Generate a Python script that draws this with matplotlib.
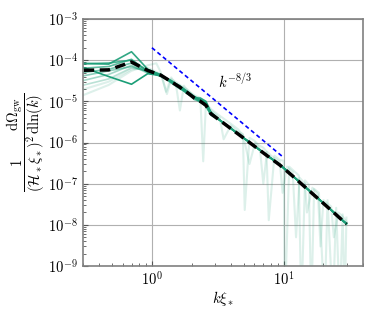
import matplotlib
matplotlib.use("Agg")
import matplotlib.pyplot as plt
from matplotlib.ticker import NullFormatter

plt.rcParams['font.family'] = 'serif'
plt.rcParams['font.serif'] = ['cmr10', 'DejaVu Serif']
plt.rcParams['mathtext.fontset'] = 'cm'
plt.rcParams['axes.formatter.use_mathtext'] = True
plt.rcParams['font.size'] = 10.5

green = '#1b9e77'

# coarse k grid shared by the solid green runs and the mean
k = [0.23, 0.47, 0.70, 0.93, 1.17, 1.40, 1.63, 1.87, 2.10, 2.33, 2.57, 2.80,
     3.27, 3.97, 4.90, 6.07, 7.47, 9.33, 11.7, 14.5, 18.2, 22.9, 28.0, 29.9]

mean = [5.6e-5, 5.8e-5, 9.0e-5, 5.6e-5, 4.3e-5, 3.0e-5, 2.2e-5, 1.6e-5, 1.2e-5, 1.0e-5, 8.0e-6, 5.0e-6,
        3.46e-6, 2.18e-6, 1.32e-6, 7.9e-7, 4.8e-7, 2.85e-7, 1.53e-7, 8.3e-8, 4.35e-8, 2.27e-8, 1.27e-8, 1.06e-8]

# tail beyond k~3, identical for all runs (they sit on the mean there)
tail = [3.5e-6, 2.2e-6, 1.33e-6, 8.0e-7, 4.85e-7, 2.9e-7, 1.55e-7, 8.4e-8, 4.4e-8, 2.3e-8, 1.28e-8, 1.07e-8]

runs = [
    [9.0e-5, 4.0e-5, 2.6e-5, 4.7e-5, 4.2e-5, 3.2e-5, 2.3e-5, 1.7e-5, 1.3e-5, 1.1e-5, 9.5e-6, 5.5e-6],
    [8.5e-5, 8.0e-5, 1.6e-4, 6.0e-5, 4.4e-5, 3.1e-5, 2.2e-5, 1.6e-5, 1.2e-5, 1.2e-5, 1.0e-5, 5.2e-6],
    [8.0e-5, 8.5e-5, 1.0e-4, 5.5e-5, 4.5e-5, 2.9e-5, 2.1e-5, 1.5e-5, 1.3e-5, 1.0e-5, 7.5e-6, 4.8e-6],
    [6.0e-5, 7.0e-5, 1.05e-4, 5.2e-5, 4.1e-5, 3.0e-5, 2.4e-5, 1.7e-5, 1.2e-5, 9.5e-6, 9.0e-6, 5.0e-6],
    [4.5e-5, 6.0e-5, 8.5e-5, 5.0e-5, 4.3e-5, 2.8e-5, 2.0e-5, 1.6e-5, 1.1e-5, 1.0e-5, 8.0e-6, 4.6e-6],
    [3.5e-5, 5.5e-5, 7.0e-5, 5.3e-5, 4.0e-5, 3.1e-5, 2.3e-5, 1.5e-5, 1.2e-5, 1.05e-5, 8.5e-6, 5.1e-6],
    [2.6e-5, 4.5e-5, 7.5e-5, 4.8e-5, 4.4e-5, 2.9e-5, 2.1e-5, 1.6e-5, 1.25e-5, 9.8e-6, 8.2e-6, 4.9e-6],
    [2.0e-5, 3.5e-5, 6.5e-5, 5.5e-5, 4.0e-5, 3.0e-5, 2.2e-5, 1.55e-5, 1.15e-5, 1.0e-5, 8.8e-6, 5.0e-6],
]
run_alpha = [1.0, 0.9, 0.8, 0.7, 0.6, 0.5, 0.4, 0.3]

# faint, noisy runs
f1_k = [0.23, 0.47, 0.70, 0.93, 1.08, 1.17, 1.28, 1.40, 1.52, 1.63, 1.75, 1.87, 2.10, 2.33, 2.45, 2.57,
        2.80, 3.0, 3.5, 4.0, 4.5, 4.9, 5.06, 5.5, 6.0, 6.5, 7.0, 7.4, 7.7, 8.5, 9.3, 10.0, 10.2, 11.0,
        12.0, 13.0, 13.6, 14.5, 15.5, 16.2, 17.0, 18.5, 20.4, 21.5, 23.6, 25.0, 26.6, 28.0, 29.0, 29.9]
f1 = [1.0e-5, 2.5e-5, 5.5e-5, 7.5e-5, 8.4e-5, 5.0e-5, 1.7e-5, 3.8e-5, 2.6e-5, 6.0e-6, 2.4e-5, 1.8e-5,
      1.4e-5, 1.2e-5, 3.5e-7, 9.0e-6, 6.5e-6, 5.5e-6, 3.8e-6, 2.8e-6, 2.1e-6, 1.5e-6, 2.3e-8, 1.3e-6,
      1.1e-6, 8.5e-7, 7.5e-7, 6.0e-7, 1.3e-8, 4.8e-7, 3.8e-7, 3.6e-7, 1.0e-10, 2.6e-7, 2.0e-7, 1.6e-7,
      1.0e-10, 1.2e-7, 9.5e-8, 1.0e-10, 7.5e-8, 6.0e-8, 1.0e-10, 4.0e-8, 1.0e-10, 2.6e-8, 1.0e-10,
      1.8e-8, 1.0e-10, 1.5e-8]

f2_k = [0.23, 0.47, 0.70, 0.93, 1.17, 1.30, 1.40, 1.63, 1.87, 2.10, 2.33, 2.57, 2.80, 3.27, 3.5, 3.97,
        4.4, 4.90, 5.5, 6.07, 6.6, 7.0, 7.47, 8.2, 9.33, 9.8, 10.6, 11.7, 12.4, 13.2, 14.5, 15.0, 16.5,
        18.2, 19.0, 20.0, 22.9, 24.0, 26.0, 28.0, 29.9]
f2 = [1.5e-5, 3.0e-5, 6.0e-5, 6.5e-5, 4.6e-5, 1.5e-5, 3.5e-5, 2.5e-5, 1.9e-5, 1.3e-5, 1.2e-5, 9.5e-6,
      6.0e-6, 4.0e-6, 1.2e-6, 2.6e-6, 1.9e-6, 1.6e-6, 3.0e-7, 1.0e-6, 7.0e-7, 1.0e-7, 6.0e-7, 4.5e-7,
      3.4e-7, 6.0e-8, 2.6e-7, 1.9e-7, 5.0e-9, 1.4e-7, 1.0e-7, 2.0e-8, 8.0e-8, 5.5e-8, 3.0e-9, 4.0e-8,
      2.8e-8, 5.0e-9, 2.0e-8, 1.6e-8, 1.2e-8]

ref_k = [1.0, 10.0]
ref = [2.0e-4, 4.3e-7]

fig = plt.figure(figsize=(3.79, 3.16), dpi=100)
ax = fig.add_axes([0.219, 0.158, 0.739, 0.782])

ax.plot(f1_k, f1, color=green, alpha=0.15, lw=1.5)
ax.plot(f2_k, f2, color=green, alpha=0.15, lw=1.5)
for r, a in zip(runs, run_alpha):
    ax.plot(k, r + tail, color=green, alpha=a, lw=1.2)
ax.plot(k, mean, color='k', lw=2.5, dashes=(3, 1.6))
ax.plot(ref_k, ref, color='b', lw=1.2, dashes=(2.5, 1.8))
ax.text(3.15, 2.1e-5, r'$k^{-8/3}$', fontsize=10.5)

ax.set_xscale('log')
ax.set_yscale('log')
ax.set_xlim(0.3, 40)
ax.set_ylim(1e-9, 1e-3)
ax.xaxis.set_minor_formatter(NullFormatter())
ax.yaxis.set_minor_formatter(NullFormatter())
ax.grid(True, which='major', color='#b0b0b0', lw=0.8)
ax.tick_params(which='both', direction='in', colors='#555555', labelcolor='k')
for s in ax.spines.values():
    s.set_color('#808080')
    s.set_linewidth(1.2)

ax.set_xlabel(r'$k\xi_*$', labelpad=0)
ax.set_ylabel(r'$\dfrac{1}{(\mathcal{H}_*\xi_*)^2}\dfrac{\mathrm{d}\Omega_{\rm gw}}{\mathrm{d}\ln(k)}$',
              fontsize=10.5, labelpad=1)

fig.savefig('out.png', dpi=100)
